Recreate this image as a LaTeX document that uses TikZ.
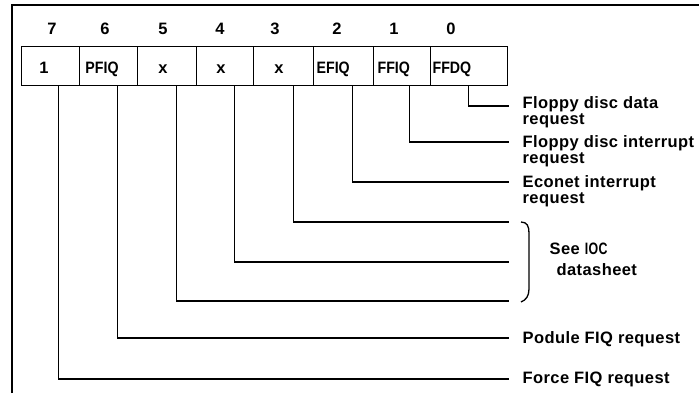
\documentclass[tikz,border=0pt]{standalone}
\usepackage{fontspec}
\setmainfont{Liberation Sans}
\newfontfamily\lblfont{Liberation Sans}[LetterSpace=2.5]
\begin{document}
\begin{tikzpicture}[x=1bp,y=-1bp,line width=1.3bp,
  cell/.style={draw,minimum height=39bp,inner sep=0,anchor=north west},
  txt/.style={inner sep=0,text height=12bp,text depth=0bp,font=\bfseries\fontsize{16.5bp}{16.5bp}\selectfont},
  boxtxt/.style={txt,anchor=center},
  boxtxtl/.style={txt,anchor=west},
  lbl/.style={anchor=west,inner sep=0,text height=12bp,text depth=0bp,font=\lblfont\bfseries\fontsize{16.5bp}{16.5bp}\selectfont},
  lead/.style={line width=1.3bp}]
\useasboundingbox (0,0) rectangle (699,393);
% frame
\draw[line width=1.8bp] (12,393) -- (12,5) -- (699,5);
% bit numbers
\node[boxtxt] (b7) at (52,28) {7};
\node[boxtxt] (b6) at (105,28) {6};
\node[boxtxt] (b5) at (163,28) {5};
\node[boxtxt] (b4) at (220,28) {4};
\node[boxtxt] (b3) at (275,28) {3};
\node[boxtxt] (b2) at (337,28) {2};
\node[boxtxt] (b1) at (394,28) {1};
\node[boxtxt] (b0) at (451,28) {0};
% cells
\node[cell,minimum width=58bp] (c7) at (21,46) {};
\node[cell,minimum width=58bp] (c6) at (79,46) {};
\node[cell,minimum width=59bp] (c5) at (137,46) {};
\node[cell,minimum width=57bp] (c4) at (196,46) {};
\node[cell,minimum width=60bp] (c3) at (253,46) {};
\node[cell,minimum width=60bp] (c2) at (313,46) {};
\node[cell,minimum width=57bp] (c1) at (373,46) {};
\node[cell,minimum width=77bp] (c0) at (430,46) {};
% cell texts
\node[boxtxt] (v7) at (44,67) {1};
\node[boxtxt] (v6) at (102,67) {\scalebox{0.86}[1]{PFIQ}};
\node[boxtxt] (v5) at (163,67) {x};
\node[boxtxt] (v4) at (221,67) {x};
\node[boxtxt] (v3) at (279,67) {x};
\node[boxtxtl] (v2) at (316,67) {\scalebox{0.86}[1]{EFIQ}};
\node[boxtxtl] (v1) at (377,67) {\scalebox{0.86}[1]{FFIQ}};
\node[boxtxtl] (v0) at (432,67) {\scalebox{0.86}[1]{FFDQ}};
% line ends
\coordinate (e0) at (509,106);
\coordinate (e1) at (509,142);
\coordinate (e2) at (509,182);
\coordinate (e3) at (509,222);
\coordinate (e4) at (509,262);
\coordinate (e5) at (509,301);
\coordinate (e6) at (509,338);
\coordinate (e7) at (509,379);
% leads
\draw[lead] ([xshift=-0.5bp]c0.south) |- (e0);
\draw[lead] ([xshift=7.5bp]c1.south) |- (e1);
\draw[lead] ([xshift=9bp]c2.south) |- (e2);
\draw[lead] ([xshift=10bp]c3.south) |- (e3);
\draw[lead] ([xshift=9.5bp]c4.south) |- (e4);
\draw[lead] ([xshift=9.5bp]c5.south) |- (e5);
\draw[lead] ([xshift=9bp]c6.south) |- (e6);
\draw[lead] ([xshift=8bp]c7.south) |- (e7);
% labels
\node[lbl] (t0) at (522,102) {Floppy disc data};
\node[lbl] (t0b) at (522,118) {request};
\node[lbl] (t1) at (522,141) {Floppy disc interrupt};
\node[lbl] (t1b) at (522,157) {request};
\node[lbl] (t2) at (522,181) {Econet interrupt};
\node[lbl] (t2b) at (522,197) {request};
\node[lbl] (t3) at (549,248) {See \scalebox{0.75}[1]{IOC}};
\node[lbl] (t3b) at (556,269) {datasheet};
\node[lbl] (t6) at (522,337) {Podule FIQ request};
\node[lbl] (t7) at (522,377) {Force FIQ request};
% brace
\draw[lead] (521,222) .. controls (527,222) and (529,226) .. (529,233) -- (529,289) .. controls (529,296) and (526,300) .. (521,302);
\end{tikzpicture}
\end{document}
